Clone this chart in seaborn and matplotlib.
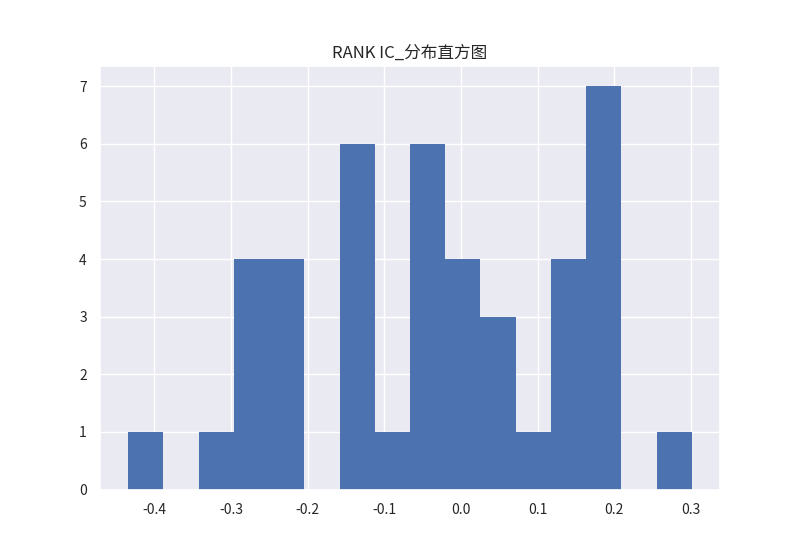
"""RANK IC distribution histogram."""
import numpy as np
import pandas as pd
import matplotlib
matplotlib.use('Agg')
import matplotlib.pyplot as plt
import seaborn as sns

# histogram: 16 equal bins between ic_min and ic_max
ic_min = -0.4339
ic_max = 0.3010
bin_counts = [1, 0, 1, 4, 4, 0, 6, 1, 6, 4, 3, 1, 4, 7, 0, 1]
title = 'RANK IC_分布直方图'

sns.set_theme(style='darkgrid', rc={
    'xtick.labelsize': 10,
    'ytick.labelsize': 10,
    'axes.titlesize': 12,
})
plt.rcParams['font.family'] = ['Noto Sans CJK SC', 'DejaVu Sans']
plt.rcParams['axes.unicode_minus'] = False

n_bins = len(bin_counts)
edges = np.linspace(ic_min, ic_max, n_bins + 1)
centers = (edges[:-1] + edges[1:]) / 2
df = pd.DataFrame({'ic': centers, 'n': bin_counts})

fig, ax = plt.subplots(figsize=(8, 5.5), dpi=100)
sns.histplot(data=df, x='ic', weights='n', bins=n_bins, binrange=(ic_min, ic_max),
             color='#4C72B0', alpha=1, edgecolor='none', linewidth=0, ax=ax)
ax.set_xlabel('')
ax.set_ylabel('')
ax.set_title(title)
ax.margins(x=0.05, y=0.05)
fig.subplots_adjust(left=0.125, right=0.9, top=0.88, bottom=0.11)
fig.savefig('out.png', dpi=100)
plt.close(fig)
